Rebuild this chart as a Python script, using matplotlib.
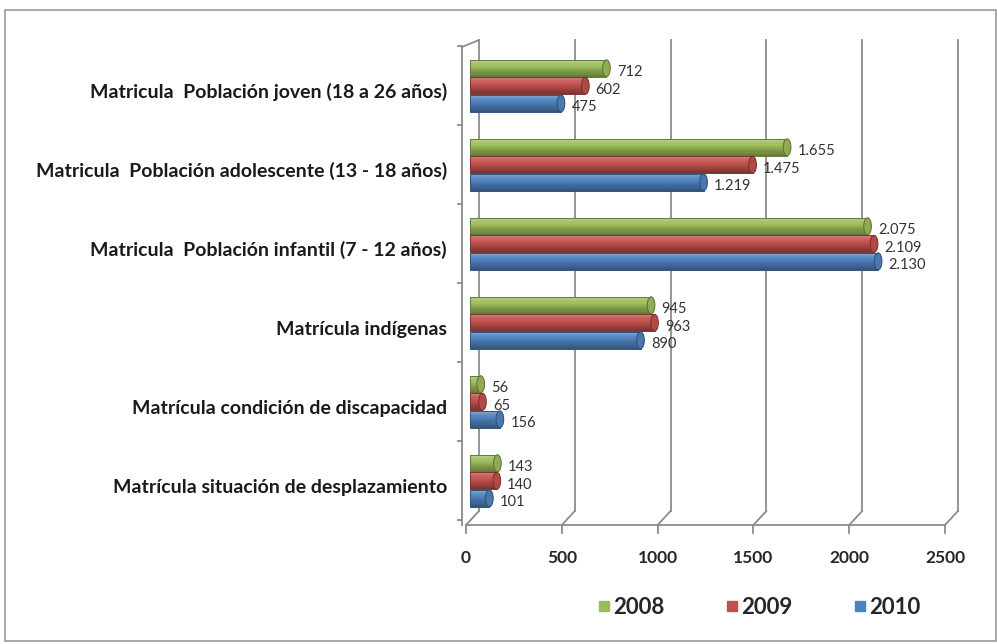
import matplotlib
matplotlib.use("Agg")
import matplotlib.pyplot as plt
import matplotlib.transforms as mtransforms
from matplotlib.patches import Rectangle, Ellipse
from matplotlib.lines import Line2D
import numpy as np
import matplotlib.colors as mcolors

categories = [
    "Matrícula situación de desplazamiento",
    "Matrícula condición de discapacidad",
    "Matrícula indígenas",
    "Matricula  Población infantil (7 - 12 años)",
    "Matricula  Población adolescente (13 - 18 años)",
    "Matricula  Población joven (18 a 26 años)",
]
years = ["2008", "2009", "2010"]
v2008 = [143, 56, 945, 2075, 1655, 712]
v2009 = [140, 65, 963, 2109, 1475, 602]
v2010 = [101, 156, 890, 2130, 1219, 475]
xticks = [0, 500, 1000, 1500, 2000, 2500]

colors = {"2008": "#9BBB59", "2009": "#C0504D", "2010": "#4F81BD"}
series = {"2008": v2008, "2009": v2009, "2010": v2010}
offsets = {"2008": 0.222, "2009": 0.0, "2010": -0.222}

W, H = 997, 644
fig = plt.figure(figsize=(W / 100, H / 100), dpi=100)
fig.patch.set_facecolor("white")

# outer frame
fig.add_artist(Rectangle((5 / W, 3 / H), 991 / W, 631 / H, transform=fig.transFigure,
                         fill=False, edgecolor="#9a9a9a", lw=1.2))

left, right, top, bottom = 466, 945, 40, 525
ax = fig.add_axes([left / W, 1 - bottom / H, (right - left) / W, (bottom - top) / H])
ax.set_xlim(0, 2500)
ax.set_ylim(-0.56, 5.58)
ax.axis("off")

back = mtransforms.offset_copy(ax.transData, fig=fig, x=13, y=14, units="dots")
barT = mtransforms.offset_copy(ax.transData, fig=fig, x=4, y=0, units="dots")
gc = "#8c8c8c"
ytop_back = 5.58 - 14 / 79.0
for xt in xticks:
    ax.plot([xt, xt], [-0.56, ytop_back], color=gc, lw=1.3, transform=back, clip_on=False)
    x0, y0 = back.transform((xt, -0.56))
    x1, y1 = ax.transData.transform((xt, -0.56))
    fig.add_artist(Line2D([x0 / W, x1 / W], [y0 / H, y1 / H], color=gc, lw=1.3,
                          transform=fig.transFigure))
    ax.plot([xt, xt], [-0.56, -0.56 - 8 / 79.0], color=gc, lw=1.3, clip_on=False)
    ax.text(xt, -0.56 - 33 / 79.0, str(xt), ha="center", va="center",
            fontsize=12.5, fontweight="bold", family="Lato", color="#262626")
ax.plot([0, 2500], [-0.56, -0.56], color=gc, lw=1.3, clip_on=False)
ax.plot([0, 0], [-0.56, 5.58 - 7 / 79.0], color=gc, lw=1.3, clip_on=False,
        transform=mtransforms.offset_copy(ax.transData, fig=fig, x=-4, y=0, units="dots"))
x0, y0 = back.transform((0, ytop_back))
x1, y1 = ax.transData.transform((0, 5.58 - 7 / 79.0))
fig.add_artist(Line2D([x0 / W, (x1 - 4) / W], [y0 / H, y1 / H], color=gc, lw=1.3,
                      transform=fig.transFigure))
for b in np.arange(-0.5, 6.0, 1.0):
    ax.plot([-40, -20], [b, b], color=gc, lw=1.3, clip_on=False)

bh = 0.215
nslice = 16
capw = 40
for yr in years:
    base = np.array(mcolors.to_rgb(colors[yr]))
    vals = series[yr]
    ys = np.arange(len(categories)) + offsets[yr]
    for k in range(nslice):
        t = (k + 0.5) / nslice  # 0 top, 1 bottom
        if t < 0.3:
            col = np.clip(base + (1 - base) * (0.35 - t) * 0.9, 0, 1)
        else:
            col = np.clip(base * (1.08 - 0.45 * (t - 0.3) / 0.7), 0, 1)
        bars = ax.barh(ys + bh / 2 - (k + 0.5) * bh / nslice, vals,
                       height=bh / nslice * 1.08, left=0, color=col,
                       edgecolor="none", zorder=3)
        for p in bars:
            p.set_transform(barT)
    bars = ax.barh(ys, vals, height=bh, left=0, color="none",
                   edgecolor=tuple(base * 0.65), lw=0.7, zorder=4)
    for p in bars:
        p.set_transform(barT)
    for yv, v in zip(ys, vals):
        e = Ellipse((v, yv), width=capw, height=bh, facecolor=tuple(np.clip(base * 0.92, 0, 1)),
                    edgecolor=tuple(base * 0.6), lw=0.7, zorder=5, transform=barT)
        ax.add_patch(e)
        lbl = f"{v:,}".replace(",", ".")
        ax.text(v + 75, yv - 0.05, lbl, ha="left", va="center", fontsize=10.5,
                family="Lato", color="#333333", zorder=6)

for i, c in enumerate(categories):
    ax.text(-100, i - 0.08, c, ha="right", va="center", fontsize=14, fontweight="bold",
            family="Lato", color="#1a1a1a")

handles = [Line2D([], [], marker="s", linestyle="none", markersize=7.5,
                  markerfacecolor=colors[y], markeredgecolor=colors[y]) for y in years]
leg = fig.legend(handles, years, loc="center", bbox_to_anchor=(759 / W, 1 - 607 / H),
                 ncol=3, frameon=False, handletextpad=0.15, handlelength=0.55,
                 columnspacing=2.75,
                 prop={"family": "Lato", "weight": "bold", "size": 16})
for t in leg.get_texts():
    t.set_color("#262626")

fig.savefig("out.png", dpi=100)
